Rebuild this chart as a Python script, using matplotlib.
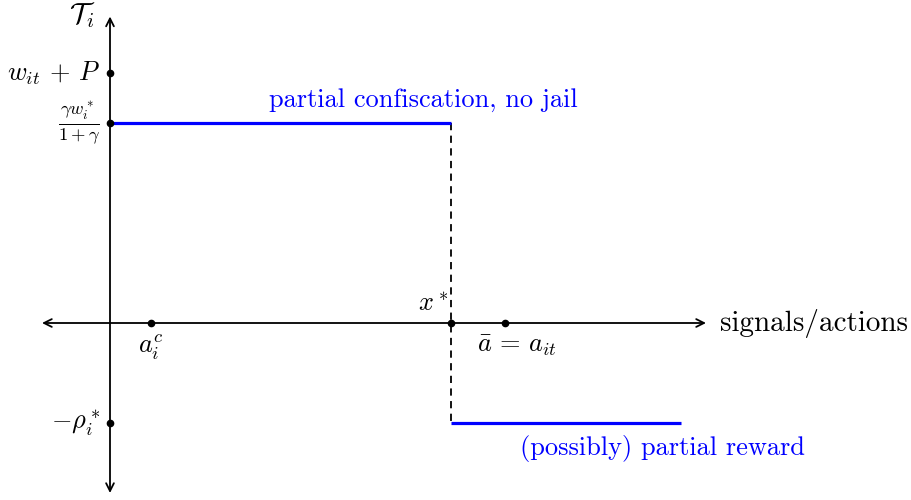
import matplotlib
matplotlib.use("Agg")
import matplotlib.pyplot as plt

plt.rcParams['font.family'] = 'serif'
plt.rcParams['font.serif'] = ['cmr10']
plt.rcParams['mathtext.fontset'] = 'cm'
plt.rcParams['axes.unicode_minus'] = False

# levels on the vertical axis (transfer T_i)
y_levels = [5.0, 4.0, -2.0]
y_labels = [r'$w_{it}\,+\,P$', r'$\frac{\gamma w_i^*}{1+\gamma}$', r'$-\rho_i^*$']

# points on the horizontal axis
x_points = [0.82, 6.82, 7.9]
x_star = 6.82
x_end = 11.42
upper_level = 4.0
lower_level = -2.0

fig = plt.figure(figsize=(9.12, 5.0), dpi=100)
ax = fig.add_axes([0, 0, 1, 1])
ax.set_xlim(-2.2, 16.04)
ax.set_ylim(-3.54, 6.46)
ax.axis('off')

# axes with arrows
ax.annotate('', xy=(11.92, 0), xytext=(-1.36, 0),
            arrowprops=dict(arrowstyle='<->', lw=1.3, color='black',
                            shrinkA=0, shrinkB=0, mutation_scale=14))
ax.annotate('', xy=(0, 6.13), xytext=(0, -3.4),
            arrowprops=dict(arrowstyle='<->', lw=1.3, color='black',
                            shrinkA=0, shrinkB=0, mutation_scale=14))

# payment schedule
ax.plot([0, x_star], [upper_level, upper_level], color='#0000ff', lw=2.3,
        solid_capstyle='butt', zorder=3)
ax.plot([x_star, x_end], [lower_level, lower_level], color='#0000ff', lw=2.3,
        solid_capstyle='butt', zorder=3)
ax.plot([x_star, x_star], [upper_level, lower_level], color='black', lw=1.3,
        dashes=(4, 3), zorder=2)

# dots
ax.plot([0] * len(y_levels), y_levels, 'o', color='black', ms=4.5, zorder=4)
ax.plot(x_points, [0] * len(x_points), 'o', color='black', ms=4.5, zorder=4)

fs = 19
for y, lab in zip(y_levels, y_labels):
    ax.text(-0.2, y, lab, ha='right', va='center', fontsize=fs)

ax.text(-0.3, 6.15, r'$\mathcal{T}_i$', ha='right', va='center', fontsize=21)
ax.text(12.2, 0, 'signals/actions', ha='left', va='center', fontsize=21)
ax.text(x_points[0], -0.2, r'$a_i^c$', ha='center', va='top', fontsize=fs)
ax.text(x_star - 0.05, 0.15, r'$x^*$', ha='right', va='bottom', fontsize=fs)
ax.text(x_points[2] + 0.23, -0.2, r'$\bar{a}\,=\,a_{it}$', ha='center', va='top',
        fontsize=fs)

ax.text(6.26, 4.45, 'partial confiscation, no jail', ha='center', va='center',
        fontsize=fs, color='#0000ff')
ax.text(11.06, -2.5, '(possibly) partial reward', ha='center', va='center',
        fontsize=fs, color='#0000ff')

fig.savefig('out.png', dpi=100)
